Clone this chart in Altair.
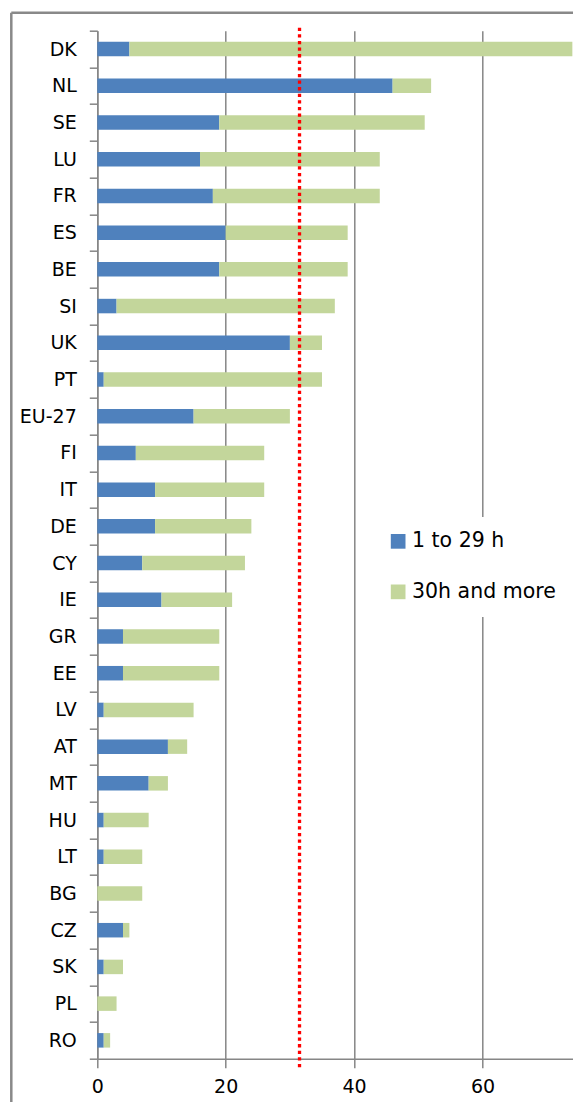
import altair as alt
import pandas as pd

# ---- data ----
countries = ["DK", "NL", "SE", "LU", "FR", "ES", "BE", "SI", "UK", "PT", "EU-27",
             "FI", "IT", "DE", "CY", "IE", "GR", "EE", "LV", "AT", "MT", "HU",
             "LT", "BG", "CZ", "SK", "PL", "RO"]
hours_1_29 = [5, 46, 19, 16, 18, 20, 19, 3, 30, 1, 15,
              6, 9, 9, 7, 10, 4, 4, 1, 11, 8, 1,
              1, 0, 4, 1, 0, 1]
hours_30_plus = [69, 6, 32, 28, 26, 19, 20, 34, 5, 34, 15,
                 20, 17, 15, 16, 11, 15, 15, 14, 3, 3, 7,
                 6, 7, 1, 3, 3, 1]
series_names = ["1 to 29 h", "30h and more"]
series_colors = ["#4F81BD", "#C3D69B"]
reference_value = [31.5]
x_ticks = [0, 20, 40, 60]
x_max = 74.1

rows = []
for c, a, b in zip(countries, hours_1_29, hours_30_plus):
    rows.append({"country": c, "series": series_names[0], "value": a, "ord": 0})
    rows.append({"country": c, "series": series_names[1], "value": b, "ord": 1})
df = pd.DataFrame(rows)
ref_df = pd.DataFrame({"ref": reference_value})

W = 475.7
H = 1028
TOP = 22.7
GRAY = "#868686"
FONT = "DejaVu Sans"

bars = alt.Chart(df).mark_bar(size=14.5).encode(
    y=alt.Y("country:N", sort=countries,
            scale=alt.Scale(paddingInner=0, paddingOuter=0),
            axis=alt.Axis(title=None, tickBand="extent", ticks=True, tickSize=8,
                          tickColor=GRAY, tickWidth=1.5, domainColor=GRAY,
                          domainWidth=1.5, labelFont=FONT, labelFontSize=19,
                          labelColor="#000000", labelPadding=13, grid=False)),
    x=alt.X("value:Q", stack="zero",
            scale=alt.Scale(domain=[0, x_max], nice=False),
            axis=alt.Axis(title=None, values=x_ticks, grid=True, gridColor=GRAY,
                          gridWidth=1.5, domainColor=GRAY, domainWidth=1.5,
                          tickColor=GRAY, tickWidth=1.5, tickSize=9,
                          labelFont=FONT, labelFontSize=19, labelColor="#000000",
                          labelPadding=10, labelFlush=False)),
    color=alt.Color("series:N", sort=series_names,
                    scale=alt.Scale(domain=series_names, range=series_colors),
                    legend=alt.Legend(title=None, orient="none", legendX=276.6,
                                      legendY=486.4, symbolType="square",
                                      symbolSize=216, symbolStrokeWidth=0,
                                      labelFont=FONT, labelFontSize=20.5,
                                      labelColor="#000000", rowPadding=29.5,
                                      padding=14, fillColor="white",
                                      labelOffset=3.6, symbolOffset=0,
                                      direction="vertical", labelLimit=300)),
    order=alt.Order("ord:Q"),
)

ref_line = alt.Chart(ref_df).mark_rule(
    color="#FF0000", strokeWidth=3.3, strokeDash=[3.3, 3.3]
).encode(
    x=alt.X("ref:Q"),
    y=alt.value(-3),
    y2=alt.value(H + 9),
)

border_left = alt.Chart(ref_df).mark_rule(color="#898989", strokeWidth=2.5).encode(
    x=alt.value(-86), y=alt.value(-18), y2=alt.value(1100)
)
border_top = alt.Chart(ref_df).mark_rule(color="#898989", strokeWidth=2.5).encode(
    x=alt.value(-86), x2=alt.value(W + 20), y=alt.value(-18)
)

chart = alt.layer(border_left, border_top, bars, ref_line).properties(
    width=W,
    height=H,
    padding={"left": 89.3, "top": TOP, "right": 0, "bottom": 1094 - TOP - H},
    autosize=alt.AutoSizeParams(type="none"),
    background="white",
).configure_view(stroke=None)

chart.save("out.html", embed_options={"renderer": "svg", "actions": False})
